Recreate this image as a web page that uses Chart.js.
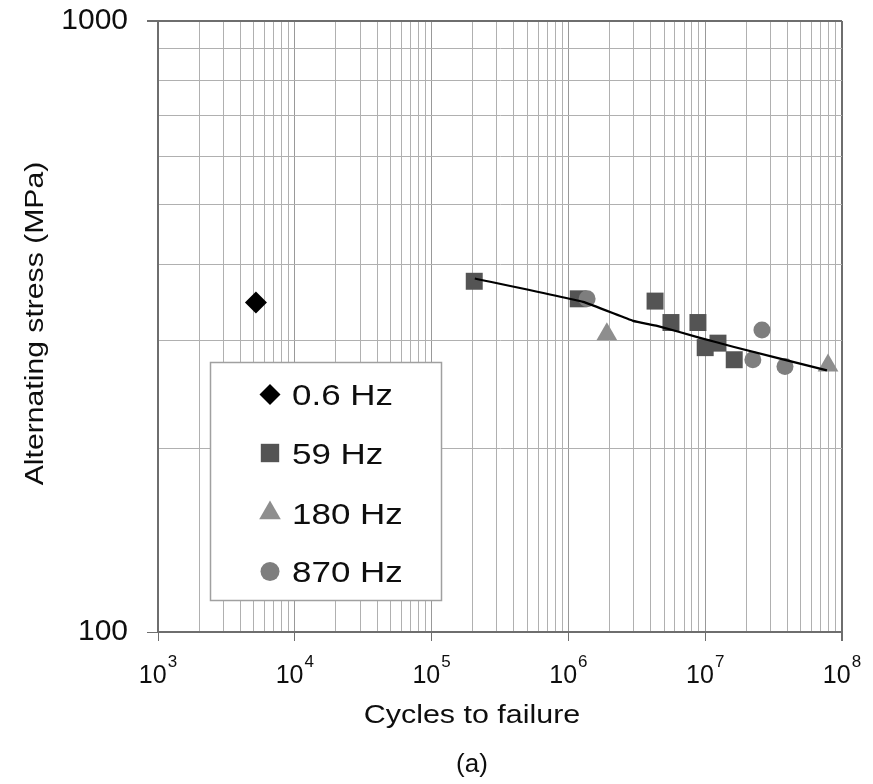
<!DOCTYPE html>
<html><head><meta charset="utf-8">
<script src="https://cdn.jsdelivr.net/npm/chart.js@4/dist/chart.umd.min.js"></script>
<style>html,body{margin:0;padding:0;background:#fff}#wrap{width:873px;height:784px;position:relative}canvas{display:block}</style>
</head><body><div id="wrap"><canvas id="c" width="873" height="784"></canvas></div>
<script>
// ---- data ----
const seriesLabels = ['0.6 Hz', '59 Hz', '180 Hz', '870 Hz'];
const cycles06 = [5200];
const stress06 = [346];
const cycles59 = [2.05e5, 1.18e6, 4.3e6, 5.62e6, 8.85e6, 1.0e7, 1.24e7, 1.63e7];
const stress59 = [375, 351, 348, 321, 321, 292, 297, 279];
const cycles180 = [1.91e6, 7.9e7];
const stress180 = [307, 273];
const cycles870 = [1.37e6, 2.6e7, 2.23e7, 3.83e7];
const stress870 = [351, 312, 279, 272];
const trendCycles = [2.07e5, 1.28e6, 2.97e6, 4.45e6, 9.16e6, 1.6e7, 7.76e7];
const trendStress = [379, 347, 323, 317, 303, 293, 268];
const xTickValues = [1e3, 1e4, 1e5, 1e6, 1e7, 1e8];
const xTickBase = '10';
const xTickExponents = ['3', '4', '5', '6', '7', '8'];
const yTickValues = [100, 1000];
const yTickLabels = ['100', '1000'];
const xTitle = 'Cycles to failure';
const yTitle = 'Alternating stress (MPa)';
const caption = '(a)';

const FONT = "'Liberation Sans', Arial, Helvetica, sans-serif";
Chart.defaults.font.family = FONT;
const TEXT = '#0e0e0e';

function pts(xs, ys) { return xs.map((x, i) => ({x: x, y: ys[i]})); }
function logTicks(min, max) {
  const t = [];
  for (let e = Math.log10(min); e < Math.log10(max); e++) {
    for (let s = 1; s <= 9; s++) t.push({value: s * Math.pow(10, e), major: s === 1});
  }
  t.push({value: max, major: true});
  return t;
}
function isMajorVal(v) { const l = Math.log10(v); return Math.abs(l - Math.round(l)) < 1e-9; }

const styles = [
  {color: '#000000', style: 'rectRot', r: 11, lr: 10.5, order: 5},
  {color: '#545454', style: 'rect', r: 12, lr: 13, order: 4},
  {color: '#8e8e8e', style: 'triangle', r: 12, lr: 12.5, order: 3},
  {color: '#7e7e7e', style: 'circle', r: 8.5, lr: 9.5, order: 2}
];
const seriesData = [pts(cycles06, stress06), pts(cycles59, stress59), pts(cycles180, stress180), pts(cycles870, stress870)];

const datasets = seriesData.map((d, i) => ({
  label: seriesLabels[i], data: d, showLine: false, order: styles[i].order,
  pointStyle: styles[i].style, pointRadius: styles[i].r, pointHoverRadius: styles[i].r,
  backgroundColor: styles[i].color, borderColor: styles[i].color, pointBorderWidth: 0
}));
datasets.push({
  label: 'trend', type: 'line', data: pts(trendCycles, trendStress), order: 1,
  borderColor: '#000', borderWidth: 2.2, pointRadius: 0, tension: 0.1, fill: false
});

// draw text widened horizontally (the reference face is wider than Arial)
function wideText(ctx, text, x, y, sx, align, rot) {
  ctx.save();
  ctx.translate(x, y);
  if (rot) ctx.rotate(rot);
  ctx.scale(sx, 1);
  ctx.textAlign = align;
  ctx.textBaseline = 'alphabetic';
  ctx.fillText(text, 0, 0);
  ctx.restore();
}

const overlay = {
  id: 'overlay',
  afterDraw(chart) {
    const ctx = chart.ctx, xs = chart.scales.x, ys = chart.scales.y;
    ctx.save();
    ctx.fillStyle = TEXT;
    // x tick labels with superscript exponents
    xTickValues.forEach((v, i) => {
      const px = xs.getPixelForValue(v);
      ctx.font = '25px ' + FONT;
      const w1 = ctx.measureText(xTickBase).width;
      ctx.font = '17px ' + FONT;
      const w2 = ctx.measureText(xTickExponents[i]).width;
      const start = px - (w1 + w2 + 1) / 2;
      ctx.textAlign = 'left'; ctx.textBaseline = 'alphabetic';
      ctx.font = '25px ' + FONT;
      ctx.fillText(xTickBase, start, 683);
      ctx.font = '17px ' + FONT;
      ctx.fillText(xTickExponents[i], start + w1 + 1, 667);
    });
    // axis titles and caption
    ctx.font = '26px ' + FONT;
    wideText(ctx, xTitle, 472, 723, 1.17, 'center');
    wideText(ctx, caption, 472, 772, 1.0, 'center');
    wideText(ctx, yTitle, 43, (ys.top + ys.bottom) / 2 - 3, 1.16, 'center', -Math.PI / 2);
    // legend box
    const bx = 210.5, by = 362.5, bw = 231, bh = 238;
    ctx.fillStyle = '#fff';
    ctx.fillRect(bx, by, bw, bh);
    ctx.strokeStyle = '#a0a0a0'; ctx.lineWidth = 1.5;
    ctx.strokeRect(bx, by, bw, bh);
    const baselines = [405, 463.5, 523.5, 582];
    chart.data.datasets.slice(0, 4).forEach((ds, i) => {
      ctx.fillStyle = ds.backgroundColor;
      Chart.helpers.drawPoint(ctx, {pointStyle: ds.pointStyle, radius: styles[i].lr, rotation: 0, borderWidth: 0}, 270, baselines[i] - 10.5);
      ctx.fillStyle = TEXT;
      ctx.font = '30px ' + FONT;
      wideText(ctx, ds.label, 292, baselines[i], 1.165, 'left');
    });
    ctx.restore();
  }
};

new Chart(document.getElementById('c'), {
  type: 'scatter',
  data: {datasets: datasets},
  options: {
    responsive: false, devicePixelRatio: 1, animation: false,
    layout: {padding: {top: 21, right: 31, left: 0, bottom: 0}},
    plugins: {legend: {display: false}, tooltip: {enabled: false}},
    scales: {
      x: {
        type: 'logarithmic', position: 'bottom', min: 1e3, max: 1e8,
        afterBuildTicks: s => { s.ticks = logTicks(1e3, 1e8); },
        afterFit: s => { s.height = 152; s.paddingLeft = 0; s.paddingRight = 0; },
        ticks: {autoSkip: false, maxRotation: 0, callback: () => ''},
        grid: {
          color: c => (c.tick && c.tick.value === 1e8) ? '#6e6e6e' : (c.tick && isMajorVal(c.tick.value) ? '#999' : '#b0b0b0'),
          lineWidth: c => (c.tick && c.tick.value === 1e8) ? 2 : 1,
          tickColor: c => (c.tick && isMajorVal(c.tick.value)) ? '#6e6e6e' : 'rgba(0,0,0,0)',
          tickLength: 9
        },
        border: {color: '#6e6e6e', width: 2},
        title: {display: false, text: xTitle}
      },
      y: {
        type: 'logarithmic', position: 'left', min: 100, max: 1000,
        afterBuildTicks: s => { s.ticks = logTicks(100, 1000); },
        afterFit: s => { s.width = 158; s.paddingTop = 0; s.paddingBottom = 0; },
        ticks: {
          autoSkip: false, padding: 19, color: TEXT, font: {size: 30},
          callback: v => { const k = yTickValues.indexOf(v); return k >= 0 ? yTickLabels[k] : ''; }
        },
        grid: {
          color: c => (c.tick && c.tick.value === 1000) ? '#6e6e6e' : '#b0b0b0',
          lineWidth: c => (c.tick && c.tick.value === 1000) ? 2 : 1,
          tickColor: c => (c.tick && yTickValues.indexOf(c.tick.value) >= 0) ? '#6e6e6e' : 'rgba(0,0,0,0)',
          tickLength: 11
        },
        border: {color: '#6e6e6e', width: 2},
        title: {display: false, text: yTitle}
      }
    }
  },
  plugins: [overlay]
});
</script></body></html>
